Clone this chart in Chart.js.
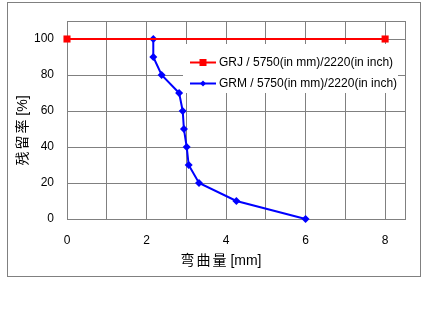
<!DOCTYPE html>
<html><head><meta charset="utf-8">
<script src="https://cdn.jsdelivr.net/npm/chart.js@4"></script>
<style>html,body{margin:0;padding:0;background:#fff}#c{display:block}</style>
</head><body>
<canvas id="c" width="423" height="318"></canvas>
<script>
const grjX = [0, 8];
const grjY = [100, 100];
const grmX = [2.17, 2.17, 2.38, 2.82, 2.91, 2.94, 3.01, 3.06, 3.32, 4.26, 6.0];
const grmY = [100, 90, 80, 70, 60, 50, 40, 30, 20, 10, 0];
const seriesLabels = ['GRJ / 5750(in mm)/2220(in inch)', 'GRM / 5750(in mm)/2220(in inch)'];
const xTitle = '弯曲量 [mm]';
const yTitle = '残留率 [%]';
const xTickLabels = [0, 2, 4, 6, 8];
const yTickLabels = [0, 20, 40, 60, 80, 100];
const xGridValues = [0, 1, 2, 3, 4, 5, 6, 7, 8, 8.5];
const yGridValues = [0, 20, 40, 60, 80, 100, 110];

const FONT = '"Liberation Sans", Arial, "Noto Sans CJK SC", sans-serif';
const GRID = '#808080';

function drawSpaced(c, text, cx, cy, gap) {
  const parts = Array.from(text);
  const isCJK = ch => /[\u3000-\u9fff]/.test(ch);
  let total = 0;
  parts.forEach((ch, i) => {
    total += c.measureText(ch).width;
    if (isCJK(ch) && i < parts.length - 1 && isCJK(parts[i + 1])) total += gap;
  });
  let x = cx - total / 2;
  c.textAlign = 'left';
  c.textBaseline = 'middle';
  parts.forEach((ch, i) => {
    c.fillText(ch, x, cy);
    x += c.measureText(ch).width;
    if (isCJK(ch) && i < parts.length - 1 && isCJK(parts[i + 1])) x += gap;
  });
}

const frame = {
  id: 'frame',
  beforeDraw(chart) {
    const c = chart.ctx;
    c.save();
    c.fillStyle = '#fff';
    c.fillRect(0, 0, chart.width, chart.height);
    c.strokeStyle = GRID; c.lineWidth = 1;
    c.strokeRect(7.5, 2.5, 413, 274);
    c.restore();
  },
  beforeDatasetsDraw(chart) {
    const c = chart.ctx, a = chart.chartArea;
    c.save();
    c.strokeStyle = GRID; c.lineWidth = 1;
    c.strokeRect(Math.round(a.left) + 0.5, Math.round(a.top) + 0.5, Math.round(a.right - a.left), Math.round(a.bottom - a.top));
    // legend box
    const lx = 183, ly = 44, lw = 215, lh = 49;
    c.fillStyle = '#fff';
    c.fillRect(lx, ly, lw, lh);
    c.font = '12px ' + FONT;
    c.textBaseline = 'middle';
    c.textAlign = 'left';
    chart.data.datasets.forEach((ds, i) => {
      const y = 62 + i * 21;
      c.strokeStyle = ds.borderColor; c.lineWidth = 2;
      c.beginPath(); c.moveTo(190, y + 0.5); c.lineTo(216, y + 0.5); c.stroke();
      c.fillStyle = ds.backgroundColor;
      if (ds.pointStyle === 'rect') {
        c.fillRect(199.5, y - 3, 7, 7);
      } else {
        c.beginPath(); c.moveTo(203, y - 2.5); c.lineTo(206, y + 0.5); c.lineTo(203, y + 3.5); c.lineTo(200, y + 0.5); c.closePath(); c.fill();
      }
      c.fillStyle = '#000';
      c.fillText(ds.label, 219, y + 1);
    });
    c.restore();
  },
  afterDraw(chart) {
    const c = chart.ctx;
    c.save();
    c.fillStyle = '#000';
    c.font = '14px ' + FONT;
    drawSpaced(c, xTitle, 221, 261, 2);
    c.translate(23, 130.5);
    c.rotate(-Math.PI / 2);
    drawSpaced(c, yTitle, 0, 0, 2);
    c.restore();
  }
};

new Chart(document.getElementById('c'), {
  type: 'scatter',
  data: {
    datasets: [
      {
        label: seriesLabels[0],
        data: grjX.map((x, i) => ({x, y: grjY[i]})),
        showLine: true, borderColor: '#ff0000', backgroundColor: '#ff0000', clip: false,
        borderWidth: 2, pointStyle: 'rect', pointRadius: 5, pointHoverRadius: 5, pointBorderWidth: 0
      },
      {
        label: seriesLabels[1],
        data: grmX.map((x, i) => ({x, y: grmY[i]})),
        showLine: true, borderColor: '#0000ff', backgroundColor: '#0000ff', clip: false,
        borderWidth: 2, pointStyle: 'rectRot', pointRadius: 4, pointHoverRadius: 4, pointBorderWidth: 0
      }
    ]
  },
  options: {
    responsive: false, animation: false, devicePixelRatio: 1,
    layout: { padding: { left: 7, top: 21, right: 18, bottom: 49 } },
    plugins: { legend: { display: false }, tooltip: { enabled: false } },
    scales: {
      x: {
        type: 'linear', min: 0, max: 8.5,
        afterFit(s) { s.height = 50; },
        afterBuildTicks(s) { s.ticks = xGridValues.map(v => ({ value: v })); },
        grid: { color: GRID, drawTicks: false, lineWidth: 1 },
        border: { display: false },
        ticks: {
          padding: 14, color: '#000', font: { family: FONT, size: 12 },
          maxRotation: 0, autoSkip: false,
          callback: v => xTickLabels.includes(v) ? String(v) : ''
        },
        title: { display: false }
      },
      y: {
        type: 'linear', min: 0, max: 110,
        afterFit(s) { s.width = 60; },
        afterBuildTicks(s) { s.ticks = yGridValues.map(v => ({ value: v })); },
        grid: { color: GRID, drawTicks: false, lineWidth: 1 },
        border: { display: false },
        ticks: {
          padding: 13, color: '#000', font: { family: FONT, size: 12 },
          autoSkip: false,
          callback: v => yTickLabels.includes(v) ? String(v) : ''
        },
        title: { display: false }
      }
    }
  },
  plugins: [frame]
});
</script>
</body></html>
